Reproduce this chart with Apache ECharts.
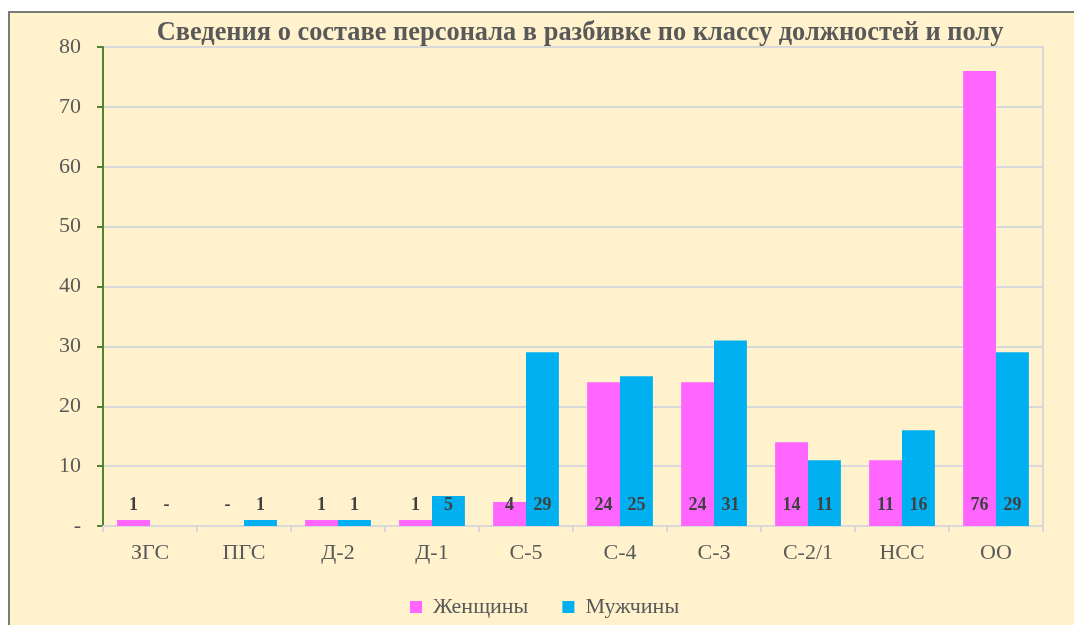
<!DOCTYPE html>
<html>
<head>
<meta charset="utf-8">
<script src="https://cdn.jsdelivr.net/npm/echarts@6/dist/echarts.min.js"></script>
<style>
html,body{margin:0;padding:0;background:#fff;width:1074px;height:625px;overflow:hidden;}
#frame{position:absolute;left:8px;top:11px;width:1066px;height:614px;background:#FFF2CC;border-left:2px solid #7a7a7a;border-top:2px solid #7a7a7a;}
#chart{position:absolute;left:0;top:0;width:1074px;height:625px;}
</style>
</head>
<body>
<div id="frame"></div>
<div id="chart"></div>
<script>
const categories = ['ЗГС','ПГС','Д-2','Д-1','С-5','С-4','С-3','С-2/1','НСС','ОО'];
const women = [1,0,1,1,4,24,24,14,11,76];
const men = [0,1,1,5,29,25,31,11,16,29];
const seriesNames = ['Женщины','Мужчины'];
const titleText = 'Сведения о составе персонала в разбивке по классу должностей и полу';

const chart = echarts.init(document.getElementById('chart'), null, {renderer:'canvas'});
const serif = '"Liberation Serif","Times New Roman",serif';
const labelCfg = {
  show:true, position:'insideBottom', distance:12,
  fontFamily:serif, fontWeight:'bold', fontSize:18, color:'#404040',
  formatter: p => p.value === 0 ? '-' : String(p.value)
};
chart.setOption({
  backgroundColor:'transparent',
  animation:false,
  title:{
    text:titleText, left:575, textAlign:'center', top:15,
    textStyle:{fontFamily:serif, fontWeight:'bold', fontSize:26.4, color:'#595959'}
  },
  legend:{
    data:seriesNames, left:405, top:591, itemWidth:12, itemHeight:12, itemGap:34,
    icon:'rect',
    textStyle:{fontFamily:serif, fontSize:22, color:'#595959', padding:[0,0,0,6]}
  },
  grid:{left:103, right:31, top:47, bottom:99, show:true, borderColor:'#D9D9D9', borderWidth:2},
  xAxis:{
    type:'category', data:categories,
    axisLine:{lineStyle:{color:'#D9D9D9', width:2}},
    axisTick:{show:true, length:6, lineStyle:{color:'#D9D9D9', width:2}},
    axisLabel:{fontFamily:serif, fontSize:22, color:'#595959', margin:16}
  },
  yAxis:{
    type:'value', min:0, max:80, interval:10,
    axisLine:{show:true, lineStyle:{color:'#538135', width:2}},
    axisTick:{show:true, length:6, lineStyle:{color:'#538135', width:2}},
    splitLine:{lineStyle:{color:'#D9D9D9', width:2}},
    axisLabel:{fontFamily:serif, fontSize:22, color:'#595959', margin:22,
      formatter: v => v === 0 ? '-' : String(v)}
  },
  series:[
    {name:seriesNames[0], type:'bar', data:women, barGap:'0%', barCategoryGap:'30%',
     itemStyle:{color:'#FF66FF'}, label:labelCfg},
    {name:seriesNames[1], type:'bar', data:men, barGap:'0%', barCategoryGap:'30%',
     itemStyle:{color:'#00B0F0'}, label:labelCfg}
  ]
});
</script>
</body>
</html>
